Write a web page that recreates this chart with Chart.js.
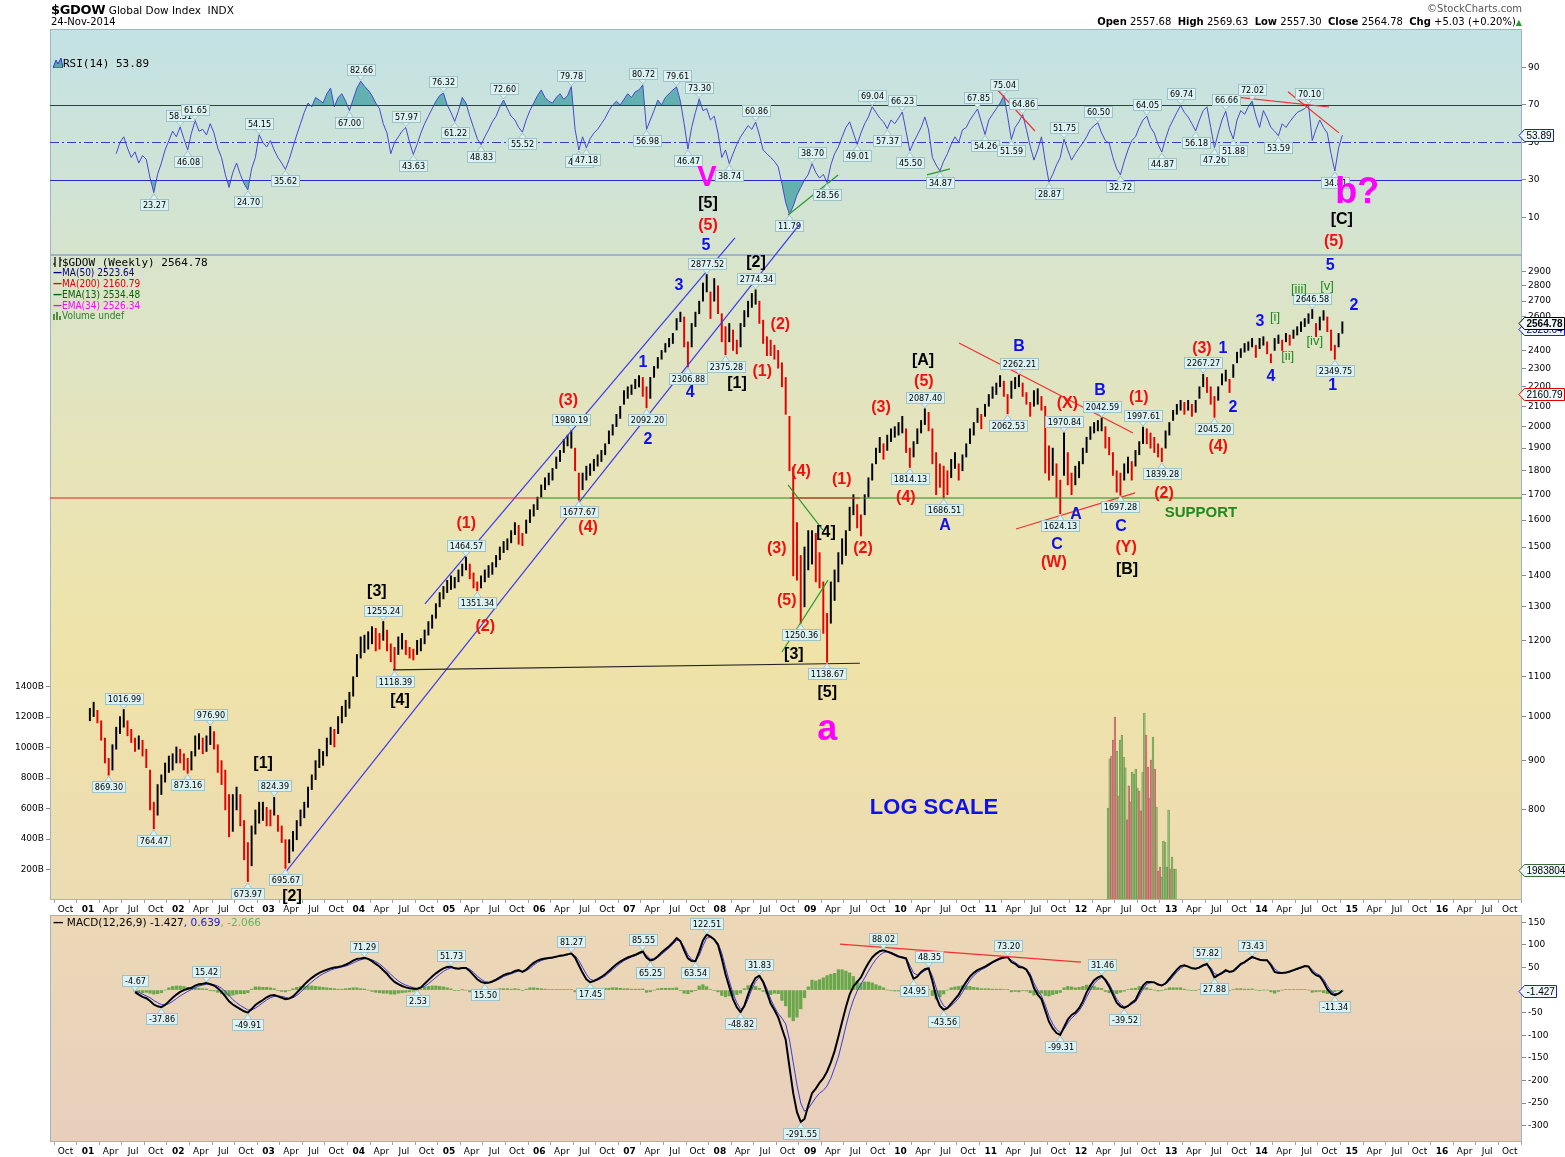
<!DOCTYPE html>
<html>
<head>
<meta charset="utf-8">
<title>$GDOW Global Dow Index</title>
<script src="https://cdn.jsdelivr.net/npm/chart.js@4.4.1/dist/chart.umd.min.js"></script>
<style>
  html, body { margin:0; padding:0; background:#ffffff; }
  #wrap { position:relative; width:1565px; height:1157px; overflow:hidden; font-family:"DejaVu Sans", sans-serif; color:#000; }
  #wrap canvas { position:absolute; left:0; top:0; }
  .txt { position:absolute; white-space:nowrap; line-height:1; }
  .mono { font-family:"DejaVu Sans Mono", monospace; font-size:11px; }
  .nar { font-family:"DejaVu Sans Condensed","Liberation Sans Narrow","Liberation Sans",sans-serif; font-size:10px; }
</style>
</head>
<body>
<div id="wrap">
  <canvas id="rsiCanvas" width="1565" height="1157"></canvas>
  <canvas id="priceCanvas" width="1565" height="1157"></canvas>
  <canvas id="macdCanvas" width="1565" height="1157"></canvas>

  <div class="txt" style="left:51px;top:3px;font-size:10.5px;"><b style="font-size:13px;letter-spacing:-0.3px;">$GDOW</b> Global Dow Index&nbsp; INDX</div>
  <div class="txt" style="left:51px;top:17px;font-size:10px;">24-Nov-2014</div>
  <div class="txt" style="right:43px;top:4px;font-size:10px;color:#555;">&copy;StockCharts.com</div>
  <div class="txt" style="right:43px;top:17px;font-size:10px;"><b>Open</b> 2557.68&nbsp; <b>High</b> 2569.63&nbsp; <b>Low</b> 2557.30&nbsp; <b>Close</b> 2564.78&nbsp; <b>Chg</b> +5.03 (+0.20%)<span style="color:#2a9a2a;font-size:8px;">&#9650;</span></div>

  <div class="txt mono" style="left:53px;top:58px;"><svg width="10" height="10" style="vertical-align:-1px"><polygon points="0,10 3,2 5,6 8,0 10,10" fill="#5aa9a9" stroke="#3333cc" stroke-width="1"/></svg>RSI(14) 53.89</div>

  <div class="txt mono" style="left:53px;top:257px;"><svg width="9" height="10" style="vertical-align:-1px"><path d="M2 0V10M0 7H2M7 0V10M7 3H9" stroke="#000" stroke-width="1.2" fill="none"/></svg>$GDOW (Weekly) 2564.78</div>
  <div class="txt nar" style="left:53px;top:268px;color:#000080;"><b>&#8212;</b>MA(50) 2523.64</div>
  <div class="txt nar" style="left:53px;top:279px;color:#e00000;"><b>&#8212;</b>MA(200) 2160.79</div>
  <div class="txt nar" style="left:53px;top:290px;color:#006400;"><b>&#8212;</b>EMA(13) 2534.48</div>
  <div class="txt nar" style="left:53px;top:301px;color:#ff00ff;"><b>&#8212;</b>EMA(34) 2526.34</div>
  <div class="txt nar" style="left:53px;top:311px;color:#2e7d2e;"><svg width="9" height="9" style="vertical-align:-1px"><path d="M1 9V3M4 9V1M7 9V5" stroke="#4f8f3f" stroke-width="2"/></svg>Volume undef</div>

  <div class="txt" style="left:53px;top:917px;font-size:10.5px;"><b>&#8212;</b> MACD(12,26,9) -1.427<span style="color:#2020d0">, 0.639</span><span style="color:#5cb85c">, -2.066</span></div>
</div>

<script>
// ======================= DATA =======================
// Time grid: two price buckets per month, starting with the first half of January 2001.
const START_YEAR = 2001;
const BUCKETS_PER_YEAR = 24;

// $GDOW weekly bars condensed to half-month high / low
const priceHigh = [
  // 2001
  1020,1035,1015,990,950,905,935,975,1000,1016.99,990,970,950,955,945,925,880,815,850,870,895,910,915,930,
  // 2002
  925,915,905,920,955,960,950,955,976.90,965,935,900,880,830,830,845,830,780,740,770,800,815,815,805,
  // 2003
  800,824.39,790,770,745,745,760,780,800,815,845,870,900,925,920,950,975,970,1000,1025,1040,1060,1100,1160,
  // 2004
  1210,1215,1225,1240,1235,1220,1255.24,1230,1190,1180,1210,1220,1200,1180,1175,1200,1205,1230,1255,1275,1310,1345,1365,1385,
  // 2005
  1400,1395,1420,1440,1464.57,1440,1410,1380,1400,1420,1435,1445,1470,1500,1520,1530,1560,1590,1580,1550,1600,1640,1660,1690,
  // 2006
  1740,1770,1790,1810,1860,1890,1940,1960,1980.19,1900,1790,1790,1820,1830,1850,1870,1890,1920,1980,2010,2060,2100,2180,2200,
  // 2007
  2210,2240,2260,2250,2200,2250,2310,2360,2400,2440,2470,2500,2590,2630,2600,2450,2560,2630,2700,2820,2877.52,2760,2850,2800,
  // 2008
  2620,2540,2560,2520,2460,2560,2640,2700,2750,2774.34,2700,2580,2480,2460,2430,2400,2330,2250,2050,1816,1590,1470,1500,1560,
  // 2009
  1560,1550,1480,1380,1280,1380,1420,1480,1530,1560,1650,1700,1660,1620,1700,1770,1830,1900,1950,1920,1960,1990,2000,2020,
  // 2010
  2050,1990,1900,1930,1990,2030,2087.40,2070,1990,1880,1830,1820,1800,1850,1880,1830,1870,1920,1990,2020,2090,2060,2110,2160,
  // 2011
  2200,2220,2260,2230,2160,2230,2250,2262.21,2220,2170,2120,2180,2190,2150,2100,1910,1900,1830,1760,1970.84,1880,1790,1820,1840,
  // 2012
  1900,1950,2000,2020,2030,2042.59,2000,1950,1880,1800,1790,1830,1860,1840,1890,1930,1997.61,1990,1970,1950,1920,1900,1980,2020,
  // 2013
  2080,2110,2130,2120,2130,2110,2130,2200,2267.27,2250,2200,2150,2200,2270,2290,2240,2320,2390,2410,2440,2450,2470,2430,2470,
  // 2014
  2480,2450,2380,2470,2490,2460,2500,2490,2520,2540,2570,2590,2620,2646.58,2560,2600,2640,2600,2520,2430,2500,2570
];
const priceLow = [
  // 2001
  990,1000,985,945,895,869.30,880,925,960,975,955,940,920,925,910,885,800,764.47,790,830,855,875,880,895,
  // 2002
  895,880,873.16,880,910,925,915,920,935,925,875,850,800,750,760,800,770,710,673.97,700,755,775,780,770,
  // 2003
  770,790,760,740,695.67,705,725,745,770,785,805,840,860,885,890,910,935,930,960,985,1000,1020,1050,1100,
  // 2004
  1150,1165,1175,1190,1170,1175,1200,1170,1140,1118.39,1160,1175,1160,1150,1145,1160,1170,1190,1215,1235,1265,1300,1325,1345,
  // 2005
  1355,1360,1380,1400,1420,1390,1360,1351.34,1360,1380,1395,1405,1430,1455,1480,1490,1515,1545,1510,1505,1550,1590,1615,1640,
  // 2006
  1690,1720,1740,1760,1810,1840,1880,1910,1900,1800,1677.67,1720,1760,1780,1800,1820,1840,1870,1920,1960,2000,2040,2110,2140,
  // 2007
  2160,2190,2200,2150,2092.20,2140,2250,2300,2350,2390,2420,2440,2520,2570,2420,2306.88,2420,2540,2620,2700,2760,2590,2700,2620,
  // 2008
  2450,2375.28,2450,2400,2380,2420,2540,2600,2660,2680,2560,2440,2370,2370,2350,2300,2200,2060,1800,1400,1386,1250.36,1300,1420,
  // 2009
  1440,1380,1360,1220,1138.67,1250,1320,1380,1440,1470,1560,1620,1570,1540,1620,1690,1760,1830,1880,1850,1890,1930,1950,1960,
  // 2010
  1970,1880,1814.13,1860,1920,1970,2010,1980,1830,1700,1730,1686.51,1700,1770,1810,1760,1800,1860,1920,1960,2020,1990,2050,2100,
  // 2011
  2140,2160,2200,2150,2062.53,2140,2190,2200,2150,2110,2050,2100,2110,2080,1790,1760,1780,1690,1624.13,1780,1740,1700,1740,1770,
  // 2012
  1830,1880,1940,1970,1980,1980,1900,1870,1780,1710,1697.28,1760,1790,1760,1820,1870,1920,1920,1900,1880,1860,1839.28,1900,1960,
  // 2013
  2030,2060,2080,2060,2080,2050,2070,2140,2200,2170,2110,2045.20,2130,2210,2230,2170,2250,2330,2360,2390,2400,2420,2360,2410,
  // 2014
  2430,2380,2330,2400,2440,2400,2450,2430,2470,2490,2510,2540,2560,2590,2480,2520,2580,2510,2400,2349.75,2420,2500
];

// RSI(14), same half-month grid, first value in bucket 7 (second half of April 2001)
const rsiFirstBucket = 7;
const rsi14 = [
  44,50,53,47,42,45,39,43,41,31,23.27,33,39,46,51,56,53,
  58.31,52,46.08,55,61.65,56,57,54,60,55,47,42,33,26,34,39,33,28,24.70,36,42,54.15,50,47.6,
  51,46,42,39,35.62,41,47.6,54,60,66,71,69,74,72.6,71,76,79,69,74,76,72,67.00,73,79,
  82.66,80,78,75,71,68,60,55,44,50,53,56,57.97,50,43.63,49,55,60,64,68,72,75,76.32,70,
  66,61.22,67,74,71,64,58,52,48.83,53,56.7,61,64,69,72.60,68,64,62,58,55.52,62,67,71,75,
  78,74,72,71,74,76,73,75,79.78,57,45.96,53,47.18,52,55,57,60,63,67,70,72,70,73,76,
  74,77,78,80.72,56.98,62,67,72.6,70,74,76,78,79.61,72,60,46.47,58,66,73.30,67,68,62,64,55,
  42,46,38.74,44,49,53,56,59,57,60.86,54,46,44,42,40,37,28,18,11.79,16,22,26,30,33,
  38.70,34,31,33,28.56,38,44,47.6,53,58,61,55,49.01,55,60,63.6,69.04,66,63,61,57.37,62,60,63,
  66.23,56,45.50,50,54,58,63.6,56.7,42,38,34.87,40,44,49,53,50,56.7,58,62,65,67.85,61,54.26,62,
  65,68,71,75.04,64,51.59,58,61,64.86,57,48,40.6,46,53,40,28.87,33,38,42,51.75,46,40.6,44,47,
  49.7,53,57,59,60.50,55,51,49.7,42,36,32.72,40,46,51,53,58,62,64.05,58,55,49,44.87,52,58,
  62,66,69.74,66,63.6,60,56.18,62,67,69,58,47.26,55,62,66.66,57,51.88,62,67,65,69,72.02,64,58,
  67,63,58,56,53.59,60,58,61,63.6,66,67,68,70.10,51,57,62,58,55,44,34.81,47,53.89
];

// MACD(12,26,9) line and signal, first value in bucket 12 (first half of July 2001)
const macdFirstBucket = 12;
const macdLine = [
  -4.67,-10,-15,-18,-24,-32,-36,-37.86,-33,-25,-17,-10,
  -4,0,3,5,10,13,14,15.42,13,10,4,-4,-14,-25,-32,-37,-42,-47,-49.91,-42,-33,-27,-22,-16,
  -12,-11,-14,-17,-20,-19,-14,-6,3,12,20,27,33,38,42,45,48,50,51,53,56,60,65,69,
  70,71.29,69,64,58,52,44,36,26,18,13,9,6,4,3,2.53,6,14,22,30,37,43,48,51,
  51.73,48,47,49,49,42,33,24,18,15.50,16,19,23,28,33,36,38,42,44,40,45,53,60,65,
  68,70,71,72,74,76,77,79,81.27,72,55,38,24,17.45,20,24,29,35,42,50,57,63,68,72,
  75,78,82,85.55,72,65.25,68,75,83,90,97,105,115,108,88,70,64,63.54,85,110,122.51,118,112,100,
  70,35,7,-20,-38,-48.82,-35,-10,12,27,31.83,18,-5,-30,-44,-60,-85,-110,-170,-228,-270,-291.55,-285,-255,
  -228,-218,-205,-195,-180,-160,-135,-103,-70,-38,-10,8,18,28,45,60,72,80,86,88.02,85,82,78,74,
  72,70,45,24.95,30,40,46,48.35,20,-15,-35,-43.56,-40,-30,-20,-10,5,18,30,38,44,48,52,57,
  62,66,70,72,73.20,62,58,51,50,45,30,5,-10,-20,-45,-70,-85,-95,-99.31,-82,-65,-55,-50,-40,
  -25,-5,10,22,28,31.46,22,8,-10,-28,-36,-39.52,-35,-28,-22,-5,10,18,18,17,12,10,15,25,
  35,45,53,55,52,48,47,50,55,57.82,45,27.88,33,38,44,40,42,50,58,62,68,73.43,70,67,
  66,66,55,40,38,38,39,41,44,47,50,53,52,40,33,30,18,2,-8,-11.34,-8,-1.427
];
const macdSignal = [
  -2,-5,-9,-13,-17,-23,-28,-32,-33,-30,-25,-19,
  -13,-8,-3,1,5,9,11,13,13.5,12,9,4,-3,-12,-21,-28,-34,-39,-44,-44,-40,-34,-28,-22,
  -17,-14,-13,-14,-16,-18,-17,-12,-5,3,11,18,25,31,36,40,44,47,49,51,53,56,60,64,
  67,69,69,67,63,58,51,43,35,27,20,15,11,8,5.5,4,4.5,8,14,21,28,35,41,46,
  49,49,48,48.5,49,46,39,31,24,19,17,18,21,25,30,33,36,39,42,41,43,48,55,61,
  65,68,70,71,73,75,76,78,80,76,65,50,35,24,21,22,26,31,38,45,52,59,65,69,
  73,76,80,83,77,69,68,72,79,86,93,101,110,109,95,78,68,64,76,98,115,117,113,104,
  82,50,20,-8,-28,-42,-38,-20,2,19,28,21,3,-20,-37,-52,-62,-75,-110,-160,-210,-250,-268,-262,
  -250,-238,-228,-222,-212,-195,-172,-148,-115,-80,-48,-22,-2,13,27,42,56,68,77,83,85,83,80,76,
  73,71,55,38,33,37,43,47,32,5,-20,-35,-40,-35,-27,-18,-5,9,22,32,39,45,49,54,
  60,64,68,71,72,66,61,55,51,47,36,16,0,-13,-33,-57,-75,-87,-94,-87,-73,-62,-55,-46,
  -33,-16,0,14,23,28,25,14,-3,-20,-31,-37,-36,-31,-26,-13,2,13,16,17,14,11,13,20,
  30,40,48,53,52,49,48,49,53,56,50,36,34,36,41,41,41,47,55,60,66,71,70,68,
  66,66,59,47,41,38,38,40,43,46,49,52,52,45,37,33,24,10,-2,-8,-7,0.639
];

// Weekly volume (B), April 2012 - January 2013, and whether the week closed up
const volumeFirstWeek = 2012.30;
const volumeB = [603,925,944,1049,1200,977,682,1049,1082,938,866,525,748,643,839,826,859,734,715,584,
                 839,1226,1082,872,669,918,1069,859,610,190,216,150,387,380,216,590,203,282,203,203];
const volumeUp = [1,1,0,0,0,1,0,1,1,1,1,0,0,0,1,1,1,1,0,0,
                  1,1,0,0,0,0,1,0,1,0,0,1,1,1,1,1,0,1,1,1];
const volumeLast = 1983804;

// Axis ticks
const priceTicks = [800,900,1000,1100,1200,1300,1400,1500,1600,1700,1800,1900,2000,2100,2200,2300,2400,2500,2600,2700,2800,2900];
const volumeTicks = [200,400,600,800,1000,1200,1400];
const rsiTicks = [10,30,50,70,90];
const macdTicks = [150,100,50,0,-50,-100,-150,-200,-250,-300];
const quarterNames = ['Jan','Apr','Jul','Oct'];
const tickYears = [2000,2001,2002,2003,2004,2005,2006,2007,2008,2009,2010,2011,2012,2013,2014,2015,2016];

// Latest values (right-hand tags)
const lastClose = 2564.78, lastMA50 = 2523.64, lastMA200 = 2160.79, lastRsi = 53.89, lastMacd = -1.427;

// Labelled swing points: [bucket, 'hi' above / 'lo' below]
const priceMarks = [[9,'hi'],[32,'hi'],[49,'hi'],[78,'hi'],[100,'hi'],[128,'hi'],[164,'hi'],[177,'hi'],[222,'hi'],[247,'hi'],[259,'hi'],[269,'hi'],[280,'hi'],[296,'hi'],[325,'hi'],
  [5,'lo'],[17,'lo'],[26,'lo'],[42,'lo'],[52,'lo'],[81,'lo'],[103,'lo'],[130,'lo'],[148,'lo'],[159,'lo'],[169,'lo'],[189,'lo'],[196,'lo'],[218,'lo'],[227,'lo'],[244,'lo'],[258,'lo'],[274,'lo'],[285,'lo'],[299,'lo'],[331,'lo']];
const rsiMarks = [[24,'hi'],[28,'hi'],[45,'hi'],[72,'hi'],[84,'hi'],[94,'hi'],[110,'hi'],[128,'hi'],[147,'hi'],[156,'hi'],[162,'hi'],[177,'hi'],[192,'hi'],[208,'hi'],[216,'hi'],[236,'hi'],[243,'hi'],[248,'hi'],[259,'hi'],[268,'hi'],[281,'hi'],[290,'hi'],[302,'hi'],[309,'hi'],[324,'hi'],
  [17,'lo'],[26,'lo'],[42,'lo'],[52,'lo'],[69,'lo'],[86,'lo'],[97,'lo'],[104,'lo'],[115,'lo'],[130,'lo'],[132,'lo'],[148,'lo'],[159,'lo'],[170,'lo'],[186,'lo'],[196,'lo'],[204,'lo'],[212,'lo'],[218,'lo'],[226,'lo'],[238,'lo'],[245,'lo'],[255,'lo'],[274,'lo'],[285,'lo'],[294,'lo'],[299,'lo'],[304,'lo'],[316,'lo'],[331,'lo']];
const macdMarks = [[12,'hi'],[31,'hi'],[73,'hi'],[96,'hi'],[128,'hi'],[147,'hi'],[164,'hi'],[178,'hi'],[211,'hi'],[223,'hi'],[244,'hi'],[269,'hi'],[297,'hi'],[309,'hi'],
  [19,'lo'],[42,'lo'],[87,'lo'],[105,'lo'],[133,'lo'],[149,'lo'],[161,'lo'],[173,'lo'],[189,'lo'],[219,'lo'],[227,'lo'],[258,'lo'],[275,'lo'],[299,'lo'],[331,'lo']];

// Elliott-wave annotations: [text, date (decimal year), value on the panel's axis, style]
const priceWaveLabels = [
  ['[1]',2002.94,893,'blk'],['[2]',2003.26,651,'blk'],['[3]',2004.20,1347,'blk'],['[4]',2004.457,1038,'blk'],
  ['[1]',2008.19,2215,'blk'],['[2]',2008.40,2958,'blk'],['[3]',2008.82,1161,'blk'],['[4]',2009.175,1551,'blk'],['[5]',2009.19,1058,'blk'],
  ['[A]',2010.25,2340,'blk'],['[B]',2012.51,1420,'blk'],
  ['(1)',2005.19,1585,'red'],['(2)',2005.40,1239,'red'],['(3)',2006.32,2127,'red'],['(4)',2006.54,1570,'red'],
  ['(1)',2008.47,2279,'red'],['(2)',2008.67,2551,'red'],['(3)',2008.63,1496,'red'],['(4)',2008.90,1795,'red'],['(5)',2008.74,1321,'red'],
  ['(1)',2009.35,1761,'red'],['(2)',2009.585,1496,'red'],['(3)',2009.785,2092,'red'],['(4)',2010.06,1687,'red'],['(5)',2010.26,2226,'red'],
  ['(W)',2011.70,1444,'red'],['(X)',2011.85,2112,'red'],['(Y)',2012.50,1499,'red'],
  ['(1)',2012.64,2142,'red'],['(2)',2012.92,1703,'red'],['(3)',2013.34,2409,'red'],['(4)',2013.52,1905,'red'],
  ['1',2007.148,2329,'blu'],['2',2007.204,1937,'blu'],['3',2007.547,2800,'blu'],['4',2007.67,2168,'blu'],
  ['A',2010.494,1578,'blu'],['B',2011.314,2420,'blu'],['C',2011.735,1508,'blu'],['A',2011.945,1620,'blu'],['B',2012.21,2178,'blu'],['C',2012.443,1574,'blu'],
  ['1',2013.573,2409,'blu'],['2',2013.684,2092,'blu'],['3',2013.983,2569,'blu'],['4',2014.105,2252,'blu'],['5',2014.76,2938,'blu'],['1',2014.79,2204,'blu'],['2',2015.025,2669,'blu'],
  ['[i]',2014.15,2594,'grn'],['[ii]',2014.29,2363,'grn'],['[iii]',2014.415,2780,'grn'],['[iv]',2014.59,2455,'grn'],['[v]',2014.726,2794,'grn'],
  ['a',2009.19,968,'big'],['LOG SCALE',2010.372,803,'log'],['SUPPORT',2013.33,1627,'sup']
];
const rsiWaveLabels = [
  ['V',2007.857,31.1,'magV'],['[5]',2007.868,17.2,'blk'],['(5)',2007.868,5.5,'red'],['5',2007.846,-5.2,'blu'],
  ['b?',2015.06,23.1,'big'],['[C]',2014.89,8.7,'blk'],['(5)',2014.80,-3.1,'red']
];

// Hand-drawn trend lines: [date1, value1, date2, value2, colour]
const priceTrendLines = [
  [2004.733,1309,2008.167,3141,'#3a3af0'],
  [2003.18,688,2008.887,3248,'#3a3af0'],
  [2004.378,1118.39,2009.55,1136,'#222222'],
  [2008.755,1740,2009.142,1562,'#2a9a2a'],
  [2008.688,1167,2009.198,1386,'#2a9a2a'],
  [2010.649,2443,2012.577,1970,'#f03030'],
  [2011.28,1566,2012.60,1707,'#f03030'],
  [2000.579,1686.51,2005.996,1686.51,'#e02020'],
  [2005.996,1686.51,2016.886,1686.51,'#1e8c1e'],
  [2008.777,1686.51,2009.552,1686.51,'#e02020']
];
const rsiTrendLines = [
  [2008.755,11.3,2009.31,32.7,'#2a9a2a'],
  [2010.294,32.7,2010.549,35.9,'#2a9a2a'],
  [2011.025,80.7,2011.49,56.1,'#f03030'],
  [2013.695,74.3,2014.748,68.9,'#f03030'],
  [2014.293,77,2014.858,55.1,'#f03030']
];
const macdTrendLines = [[2009.33,101.7,2012.0,61.9,'#f03030']];

// ======================= LAYOUT / STYLE =======================
const W = 1565, H = 1157;
const X_MIN = 2000.579, X_MAX = 2016.886;
const AXIS_W = 43;
const bucketDate = i => START_YEAR + (i + 0.5) / BUCKETS_PER_YEAR;

Chart.defaults.font.family = '"DejaVu Sans", sans-serif';
Chart.defaults.animation = false;

const labelStyles = {
  blk: {font:'bold 16px "Liberation Sans", Arial, sans-serif', color:'#000000'},
  red: {font:'bold 16px "Liberation Sans", Arial, sans-serif', color:'#f01010'},
  blu: {font:'bold 16px "Liberation Sans", Arial, sans-serif', color:'#1010ee'},
  grn: {font:'13px "Liberation Sans", Arial, sans-serif', color:'#1f8a1f'},
  big: {font:'bold 36px "Liberation Sans", Arial, sans-serif', color:'#ff00ff'},
  magV:{font:'bold 29px "Liberation Sans", Arial, sans-serif', color:'#ff00ff'},
  log: {font:'bold 22px "Liberation Sans", Arial, sans-serif', color:'#1010ee'},
  sup: {font:'bold 15px "Liberation Sans", Arial, sans-serif', color:'#1f8a1f'}
};
const BOX_FONT = '9px "DejaVu Sans Condensed","Liberation Sans Narrow","Liberation Sans",sans-serif';
const TICK_FONT = {family:'"DejaVu Sans", sans-serif', size:9};

const xTickValues = [];
tickYears.forEach(y => quarterNames.forEach((q, k) => { const v = y + k / 4; if (v >= X_MIN && v <= X_MAX) xTickValues.push(v); }));
const isYearTick = v => Math.abs(v - Math.round(v)) < 1e-6;
const xTickLabel = v => {
  const y = Math.floor(v + 1e-6), k = Math.round((v - y) * 4);
  return k === 0 ? String(y % 100).padStart(2, '0') : quarterNames[k];
};

function xScale(show) {
  return {
    type:'linear', min:X_MIN, max:X_MAX, offset:false, bounds:'data', display:show,
    afterBuildTicks: s => { s.ticks = xTickValues.map(v => ({value:v})); },
    afterFit: s => { if (show) s.height = 15; },
    border:{display:false},
    grid:{drawOnChartArea:false, drawTicks:true, tickLength:3, color:'#8fa9b8'},
    ticks:{autoSkip:false, maxRotation:0, padding:1, color:'#000',
      font: ctx => ({family:'"DejaVu Sans", sans-serif', size:9, weight: (ctx.tick && isYearTick(ctx.tick.value)) ? 'bold' : 'normal'}),
      callback: v => xTickLabel(v)}
  };
}
function yScale(min, max, ticks, type, pos, width, fmt) {
  return {
    type: type || 'linear', position: pos || 'right', min, max, bounds:'data',
    afterBuildTicks: s => { s.ticks = ticks.map(v => ({value:v})); },
    afterFit: s => { s.width = width || AXIS_W; },
    border:{display:false},
    grid:{drawOnChartArea:false, drawTicks:true, tickLength:4, color:'#8a8a8a'},
    ticks:{autoSkip:false, padding:2, color:'#000', font:TICK_FONT, callback: fmt || (v => String(v))}
  };
}

function backgroundPlugin(stops) {
  return { id:'panelBg', beforeDraw(chart) {
    const {ctx, chartArea:a} = chart;
    const g = ctx.createLinearGradient(0, a.top, 0, a.bottom);
    stops.forEach(s => g.addColorStop(s[0], s[1]));
    ctx.save(); ctx.fillStyle = g; ctx.fillRect(a.left, a.top, a.right - a.left, a.bottom - a.top); ctx.restore();
  }};
}

function drawValueBox(ctx, px, py, text, above) {
  ctx.font = BOX_FONT;
  const w = Math.round(ctx.measureText(text).width) + 5, h = 11, gap = 6;
  const bx = Math.round(px - w / 2) + 0.5;
  const by = above ? Math.round(py - gap - h) + 0.5 : Math.round(py + gap) + 0.5;
  ctx.fillStyle = '#dcf1f1'; ctx.strokeStyle = '#9fc2c7'; ctx.lineWidth = 1;
  ctx.beginPath();
  if (above) { ctx.moveTo(px - 4, by + h); ctx.lineTo(px, py - 1); ctx.lineTo(px + 4, by + h); }
  else { ctx.moveTo(px - 4, by); ctx.lineTo(px, py + 1); ctx.lineTo(px + 4, by); }
  ctx.closePath(); ctx.fill(); ctx.stroke();
  ctx.fillRect(bx, by, w, h); ctx.strokeRect(bx, by, w, h);
  ctx.fillStyle = '#000'; ctx.textAlign = 'center'; ctx.textBaseline = 'middle';
  ctx.fillText(text, bx + w / 2, by + h / 2 + 0.5);
}

function drawTag(ctx, xr, y, text, border, color, bold) {
  ctx.font = (bold ? 'bold ' : '') + '10px "Liberation Sans", Arial, sans-serif';
  const w = Math.round(ctx.measureText(text).width) + 4, h = 12;
  y = Math.round(y) + 0.5;
  const bx = xr + 2.5;
  ctx.beginPath();
  ctx.moveTo(xr - 3, y); ctx.lineTo(bx, y - h / 2); ctx.lineTo(bx + w, y - h / 2);
  ctx.lineTo(bx + w, y + h / 2); ctx.lineTo(bx, y + h / 2); ctx.closePath();
  ctx.fillStyle = '#eef8fb'; ctx.fill();
  ctx.strokeStyle = border; ctx.lineWidth = 1; ctx.stroke();
  ctx.fillStyle = color; ctx.textAlign = 'left'; ctx.textBaseline = 'middle';
  ctx.fillText(text, bx + 2, y + 0.5);
}

function annotationPlugin(cfg) {
  return {
    id:'panelAnno',
    afterDatasetsDraw(chart) {
      const {ctx, chartArea:a, scales} = chart;
      const xs = scales.x, ys = scales[cfg.yId];
      ctx.save();
      ctx.strokeStyle = '#9db6c4'; ctx.lineWidth = 1;
      ctx.strokeRect(a.left + 0.5, a.top + 0.5, a.right - a.left - 1, a.bottom - a.top - 1);
      (cfg.hlines || []).forEach(h => {
        const y = Math.round(ys.getPixelForValue(h.v)) + 0.5;
        ctx.strokeStyle = h.c; ctx.lineWidth = 1; ctx.setLineDash(h.dash || []);
        ctx.beginPath(); ctx.moveTo(a.left, y); ctx.lineTo(a.right, y); ctx.stroke();
      });
      ctx.setLineDash([]);
      (cfg.lines || []).forEach(l => {
        ctx.strokeStyle = l[4]; ctx.lineWidth = 1.2;
        ctx.beginPath();
        ctx.moveTo(xs.getPixelForValue(l[0]), ys.getPixelForValue(l[1]));
        ctx.lineTo(xs.getPixelForValue(l[2]), ys.getPixelForValue(l[3]));
        ctx.stroke();
      });
      (cfg.boxes || []).forEach(b => drawValueBox(ctx, xs.getPixelForValue(b.x), ys.getPixelForValue(b.y), b.text, b.above));
      (cfg.texts || []).forEach(t => {
        const st = labelStyles[t[3]];
        ctx.font = st.font; ctx.fillStyle = st.color; ctx.textAlign = 'center'; ctx.textBaseline = 'middle';
        ctx.fillText(t[0], xs.getPixelForValue(t[1]), ys.getPixelForValue(t[2]));
      });
      ctx.restore();
    },
    afterDraw(chart) {
      const {ctx, chartArea:a, scales} = chart;
      ctx.save();
      (cfg.tags || []).forEach(tg => drawTag(ctx, a.right, scales[tg.scale].getPixelForValue(tg.v), tg.text, tg.border, tg.color, tg.bold));
      ctx.restore();
    }
  };
}

// ======================= RSI PANEL =======================
const rsiPoints = rsi14.map((v, k) => ({x: bucketDate(k + rsiFirstBucket), y: v}));
const rsiValueAt = i => rsi14[i - rsiFirstBucket];
new Chart(document.getElementById('rsiCanvas'), {
  type:'line',
  data:{ datasets:[
    {data:rsiPoints, borderColor:'#4848d0', borderWidth:1, pointRadius:0, tension:0,
     fill:{target:{value:70}, above:'rgba(80,168,168,0.85)', below:'rgba(0,0,0,0)'}},
    {data:rsiPoints, borderColor:'rgba(0,0,0,0)', borderWidth:0, pointRadius:0, tension:0,
     fill:{target:{value:30}, above:'rgba(0,0,0,0)', below:'rgba(80,168,168,0.85)'}}
  ]},
  options:{
    responsive:false, events:[],
    layout:{padding:{top:29, bottom:H - 255, left:50, right:0}},
    plugins:{legend:{display:false}, tooltip:{enabled:false}},
    scales:{ x:xScale(false), y:yScale(-10, 110.5, rsiTicks) }
  },
  plugins:[
    backgroundPlugin([[0,'#c3e2e5'],[1,'#d6e4cd']]),
    annotationPlugin({
      yId:'y',
      hlines:[{v:70, c:'#2a2ac8'}, {v:30, c:'#2a2ac8'}, {v:50, c:'#3a3ad0', dash:[9,3,2,3]}],
      lines: rsiTrendLines,
      boxes: rsiMarks.map(m => ({x:bucketDate(m[0]), y:rsiValueAt(m[0]), text:rsiValueAt(m[0]).toFixed(2), above:m[1] === 'hi'})),
      texts: rsiWaveLabels,
      tags:[{scale:'y', v:lastRsi, text:lastRsi.toFixed(2), border:'#2020d0', color:'#000'}]
    })
  ]
});

// ======================= PRICE PANEL =======================
const barMid = i => (priceHigh[i] + priceLow[i]) / 2;
const priceBars = priceHigh.map((h, i) => ({x: bucketDate(i), y: [priceLow[i], h]}));
const priceColors = priceHigh.map((h, i) => (i === 0 || barMid(i) >= barMid(i - 1)) ? '#000000' : '#e60000');
const weekLen = 7 / 365.25;
const volumeBars = volumeB.map((v, k) => ({x: volumeFirstWeek + k * weekLen, y: v}));
new Chart(document.getElementById('priceCanvas'), {
  type:'bar',
  data:{ datasets:[
    {type:'bar', yAxisID:'yVol', data:volumeBars, grouped:false, barThickness:1.8,
     backgroundColor: volumeUp.map(u => u ? '#93bb72' : '#d98484'),
     borderColor: volumeUp.map(u => u ? '#5f8f44' : '#b35a5a'), borderWidth:{left:0.6, right:0.6, top:0.6, bottom:0}, order:2},
    {type:'bar', yAxisID:'y', data:priceBars, grouped:false, barThickness:1.3, borderWidth:0,
     backgroundColor:priceColors, order:1}
  ]},
  options:{
    responsive:false, events:[],
    layout:{padding:{top:255, bottom:H - 915, left:0, right:0}},
    plugins:{legend:{display:false}, tooltip:{enabled:false}},
    scales:{
      x: xScale(true),
      y: yScale(645, 3015, priceTicks, 'logarithmic', 'right'),
      yVol: yScale(0, 4230, volumeTicks, 'linear', 'left', 50, v => v + 'B')
    }
  },
  plugins:[
    backgroundPlugin([[0,'#d8e4cc'],[0.38,'#e9e4b6'],[0.62,'#efe3a8'],[1,'#eddbb3']]),
    annotationPlugin({
      yId:'y',
      lines: priceTrendLines,
      boxes: priceMarks.map(m => {
        const v = m[1] === 'hi' ? priceHigh[m[0]] : priceLow[m[0]];
        return {x:bucketDate(m[0]), y:v, text:v.toFixed(2), above:m[1] === 'hi'};
      }),
      texts: priceWaveLabels,
      tags:[
        {scale:'yVol', v:volumeLast / 10000, text:String(volumeLast), border:'#3a6a3a', color:'#000'},
        {scale:'y', v:lastMA200, text:lastMA200.toFixed(2), border:'#e00000', color:'#000'},
        {scale:'y', v:lastMA50, text:lastMA50.toFixed(2), border:'#2020d0', color:'#000060'},
        {scale:'y', v:lastClose, text:lastClose.toFixed(2), border:'#000000', color:'#000', bold:true}
      ]
    })
  ]
});

// ======================= MACD PANEL =======================
const macdPoints = macdLine.map((v, k) => ({x: bucketDate(k + macdFirstBucket), y: v}));
const signalPoints = macdSignal.map((v, k) => ({x: bucketDate(k + macdFirstBucket), y: v}));
const histPoints = macdLine.map((v, k) => ({x: bucketDate(k + macdFirstBucket), y: v - macdSignal[k]}));
const macdValueAt = i => macdLine[i - macdFirstBucket];
new Chart(document.getElementById('macdCanvas'), {
  type:'bar',
  data:{ datasets:[
    {type:'bar', data:histPoints, grouped:false, barThickness:2.6, backgroundColor:'#6aa64a', borderWidth:0, order:3},
    {type:'line', data:signalPoints, borderColor:'#3a3ae0', borderWidth:1, pointRadius:0, tension:0, order:2},
    {type:'line', data:macdPoints, borderColor:'#000000', borderWidth:2, pointRadius:0, tension:0, order:1}
  ]},
  options:{
    responsive:false, events:[],
    layout:{padding:{top:915, bottom:0, left:50, right:0}},
    plugins:{legend:{display:false}, tooltip:{enabled:false}},
    scales:{ x: xScale(true), y: yScale(-336, 166, macdTicks) }
  },
  plugins:[
    backgroundPlugin([[0,'#ecd8b6'],[1,'#e8cfbd']]),
    annotationPlugin({
      yId:'y',
      lines: macdTrendLines,
      boxes: macdMarks.map(m => ({x:bucketDate(m[0]), y:macdValueAt(m[0]), text:macdValueAt(m[0]).toFixed(2), above:m[1] === 'hi'})),
      tags:[{scale:'y', v:lastMacd, text:lastMacd.toFixed(3), border:'#2020d0', color:'#000'}]
    })
  ]
});
</script>
</body>
</html>
